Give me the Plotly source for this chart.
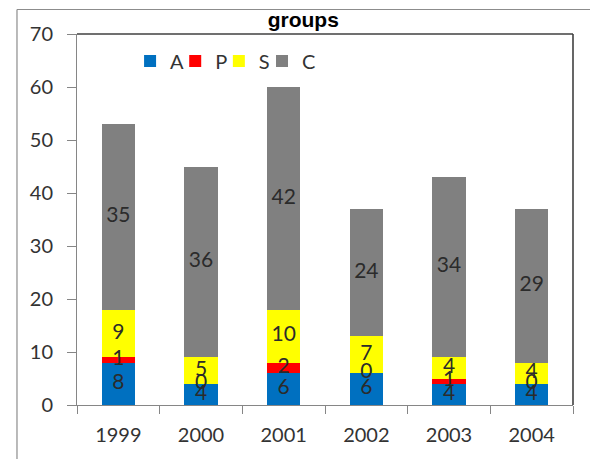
import numpy as np
import plotly.graph_objects as go

years = ["1999", "2000", "2001", "2002", "2003", "2004"]
series_names = ["A", "P", "S", "C"]
a_vals = [8, 4, 6, 6, 4, 4]
p_vals = [1, 0, 2, 0, 1, 0]
s_vals = [9, 5, 10, 7, 4, 4]
c_vals = [35, 36, 42, 24, 34, 29]
series_colors = ["#0070C0", "#FF0000", "#FFFF00", "#808080"]

all_vals = [a_vals, p_vals, s_vals, c_vals]

label_font = dict(family="Lato", size=21, color="#2b2b2b")
tick_font = dict(family="Lato", size=20, color="#333333")
legend_font = dict(family="Lato", size=20, color="#333333")

# one small legend per series so the entries can sit close together
legend_ids = ["legend", "legend2", "legend3", "legend4"]
legend_x = [0.107, 0.198, 0.286, 0.373]

fig = go.Figure()

# stacked bars
for name, vals, col, lid in zip(series_names, all_vals, series_colors, legend_ids):
    fig.add_trace(go.Bar(
        x=years, y=vals, name=name, marker=dict(color=col, line=dict(width=0)),
        width=0.4, legend=lid,
    ))

# value labels centred in each segment (zero segments sit on the boundary)
base = np.zeros(len(years))
for vals in all_vals:
    v = np.array(vals, dtype=float)
    mid = base + v / 2
    fig.add_trace(go.Scatter(
        x=years, y=mid, mode="text", text=[str(x) for x in vals],
        textfont=label_font, textposition="middle center",
        showlegend=False, hoverinfo="skip", cliponaxis=False,
    ))
    base = base + v

# plot frame: dark top and right edges
fig.add_shape(type="line", xref="paper", yref="paper", x0=0, x1=1, y0=1, y1=1,
              line=dict(color="#404040", width=1.6))
fig.add_shape(type="line", xref="paper", yref="paper", x0=1, x1=1, y0=0, y1=1,
              line=dict(color="#404040", width=1.6))
# outer chart-area border (left and top edges)
fig.add_shape(type="line", xref="paper", yref="paper", x0=-0.121, x1=-0.121,
              y0=-0.5, y1=1.066, line=dict(color="#8c8c8c", width=1.2),
              layer="below")
fig.add_shape(type="line", xref="paper", yref="paper", x0=-0.121, x1=1.3,
              y0=1.066, y1=1.066, line=dict(color="#8c8c8c", width=1.2),
              layer="below")

legend_layout = {}
for lid, lx in zip(legend_ids, legend_x):
    legend_layout[lid] = dict(
        orientation="h", x=lx, y=0.98, xanchor="left", yanchor="top",
        font=legend_font, bgcolor="rgba(0,0,0,0)", itemwidth=30,
    )

fig.update_layout(
    barmode="stack",
    width=590, height=459,
    margin=dict(l=77, r=17, t=34, b=54),
    paper_bgcolor="white", plot_bgcolor="white",
    title=dict(text="<b>groups</b>", x=0.514, xanchor="center", y=0.958,
               yanchor="middle",
               font=dict(family="Liberation Sans", size=21, color="black")),
    showlegend=True,
    xaxis=dict(
        type="category", tickson="boundaries", ticks="outside", ticklen=8,
        tickcolor="#868686", showline=True, linecolor="#868686", linewidth=1,
        showgrid=False, tickfont=tick_font, ticklabelstandoff=12,
        range=[-0.5, 5.5],
    ),
    yaxis=dict(
        range=[0, 70], tickvals=[0, 10, 20, 30, 40, 50, 60, 70], ticks="outside",
        ticklen=9, tickcolor="#868686", showline=True, linecolor="#868686",
        linewidth=1, showgrid=False, zeroline=False, tickfont=tick_font,
        ticklabelstandoff=10,
    ),
    **legend_layout,
)

fig.write_html("out.html")
